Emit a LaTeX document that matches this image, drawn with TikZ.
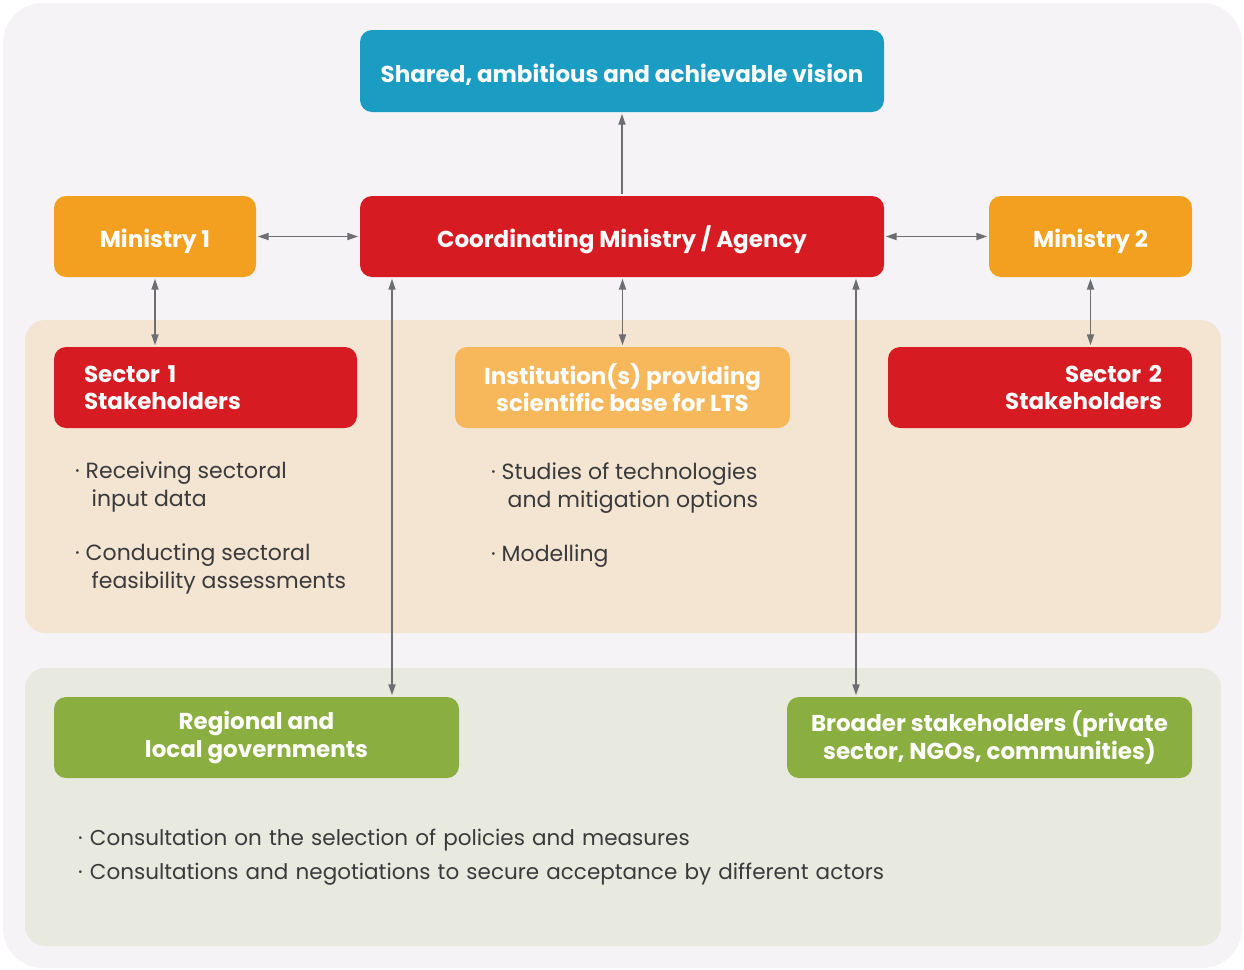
\documentclass[tikz,border=0pt]{standalone}
\usepackage{fontspec}
\setmainfont{Poppins}
\usetikzlibrary{arrows.meta}
\definecolor{pagebg}{HTML}{F5F3F6}
\definecolor{beige}{HTML}{F4E5D3}
\definecolor{sage}{HTML}{E9EADF}
\definecolor{visionblue}{HTML}{1B9CC3}
\definecolor{minorange}{HTML}{F3A020}
\definecolor{coordred}{HTML}{D71B23}
\definecolor{instorange}{HTML}{F7B75B}
\definecolor{govgreen}{HTML}{8AAF40}
\definecolor{linkgray}{HTML}{6D6E71}
\definecolor{bullettext}{HTML}{3A3A3C}
\begin{document}
\begin{tikzpicture}[x=1pt,y=-1pt,
    box/.style={rounded corners=12pt,minimum height=81pt,text=white,
      font=\fontsize{23}{27.5}\selectfont\bfseries,inner sep=0pt},
    oneline/.style={text height=22pt,text depth=0pt},
    link/.style={draw=linkgray,line width=1.8pt,
      {Triangle[length=11pt,width=7pt]}-{Triangle[length=11pt,width=7pt]},shorten >=1.5pt,shorten <=1.5pt},
    bullets/.style={anchor=north west,align=left,text=bullettext,inner sep=0pt,
      font=\fontsize{22}{28}\selectfont}]
  \useasboundingbox (0,0) rectangle (1244,969);
  \fill[pagebg,rounded corners=40pt] (3,3) rectangle (1242,968);
  \fill[beige,rounded corners=20pt] (25,320) rectangle (1221,633);
  \fill[sage,rounded corners=20pt] (25,668) rectangle (1221,946);

  \node[box,oneline,fill=visionblue,minimum width=524pt,minimum height=82pt] (vision) at (622,71) {Shared, ambitious and achievable vision};
  \node[box,oneline,fill=coordred,minimum width=524pt] (coord) at (622,236.5) {Coordinating Ministry / Agency};
  \node[box,oneline,fill=minorange,minimum width=202pt] (min1) at (155,236.5) {Ministry 1};
  \node[box,oneline,fill=minorange,minimum width=203pt] (min2) at (1090.5,236.5) {Ministry 2};
  \node[box,fill=coordred,minimum width=303pt,text width=243pt,align=left] (sec1) at (205.5,387.5) {Sector 1\\Stakeholders};
  \node[box,fill=instorange,minimum width=335pt,align=center] (inst) at (622.5,387.5) {Institution(s) providing\\scientific base for LTS};
  \node[box,fill=coordred,minimum width=304pt,text width=244pt,align=right] (sec2) at (1040,387.5) {Sector 2\\Stakeholders};
  \node[box,fill=govgreen,minimum width=405pt,align=center] (reg) at (256.5,737.5) {Regional and\\local governments};
  \node[box,fill=govgreen,minimum width=405pt,align=center] (broad) at (989.5,737.5) {Broader stakeholders (private\\sector, NGOs, communities)};

  \draw[link] (min1) -- (coord);
  \draw[link] (coord) -- (min2);
  \draw[link,{Triangle[length=11pt,width=7pt]}-] (vision) -- (coord);
  \draw[link] (min1) -- (min1 |- sec1.north);
  \draw[link] (coord.south -| inst) -- (inst);
  \draw[link] (min2) -- (min2 |- sec2.north);
  \draw[link] (coord.south -| 392,0) -- (reg.north -| 392,0);
  \draw[link] (coord.south -| 856,0) -- (broad.north -| 856,0);

  \node[bullets] (sec1txt) at (75,462) {· Receiving sectoral\\\hspace{0.75em}input data\\[26pt]· Conducting sectoral\\\hspace{0.75em}feasibility assessments};
  \node[bullets] (insttxt) at (491,462) {· Studies of technologies\\\hspace{0.75em}and mitigation options\\[26pt]· Modelling};
  \node[bullets,text width=900pt,font=\fontsize{21.5}{28}\selectfont] (consult) at (78,829) {· Consultation on the selection of policies and measures\\[6pt]· Consultations and negotiations to secure acceptance by different actors};
\end{tikzpicture}
\end{document}
